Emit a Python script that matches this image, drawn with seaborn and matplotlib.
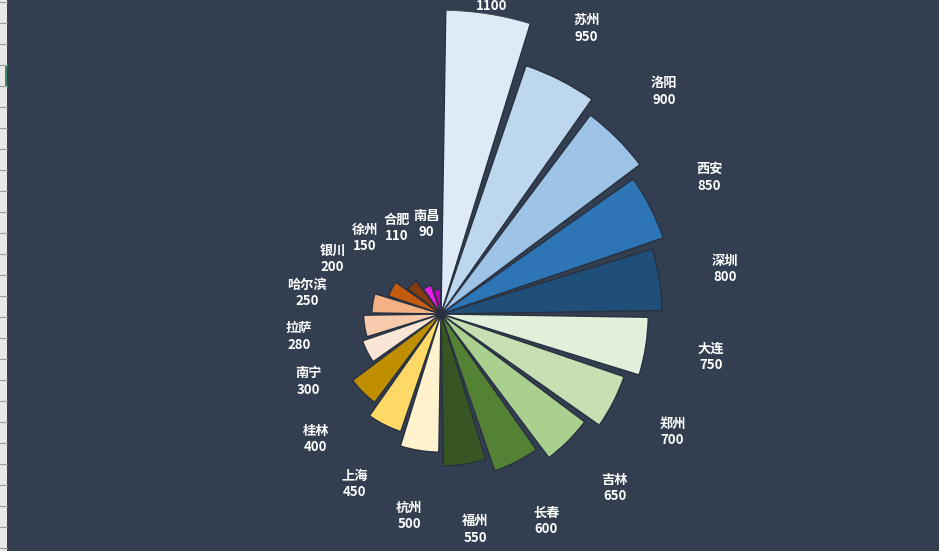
import numpy as np
import matplotlib
matplotlib.use("Agg")
import matplotlib.pyplot as plt
import matplotlib.transforms as mtransforms
import seaborn as sns
from matplotlib.patches import Rectangle
from matplotlib.lines import Line2D

cities = ["北京", "苏州", "洛阳", "西安", "深圳", "大连", "郑州", "吉林", "长春", "福州",
          "杭州", "上海", "桂林", "南宁", "拉萨", "哈尔滨", "银川", "徐州", "合肥", "南昌"]
values = [1100, 950, 900, 850, 800, 750, 700, 650, 600, 550,
          500, 450, 400, 300, 280, 250, 200, 150, 110, 90]
colors = ["#deebf7", "#bdd7ee", "#9dc3e6", "#2e75b6", "#1f4e79",
          "#e2efda", "#c6e0b4", "#a9d08e", "#548235", "#375623",
          "#fff2cc", "#ffd966", "#bf8f00", "#fbe5d6", "#f8cbad",
          "#f4b183", "#c55a11", "#843c0c", "#e61ee6", "#c000c0"]

BG = "#333e50"

sns.set_theme(style="dark")
plt.rcParams["font.family"] = ["Noto Sans CJK SC", "DejaVu Sans"]

W, H = 939, 551
fig = plt.figure(figsize=(W / 100, H / 100), dpi=100, facecolor=BG)

cx, cy, R = 441, 314, 304
ax = fig.add_axes([(cx - R) / W, (H - cy - R) / H, 2 * R / W, 2 * R / H],
                  projection="polar")
ax.set_facecolor("none")
ax.set_theta_zero_location("N")
ax.set_theta_direction(-1)

n = len(values)
step = 2 * np.pi / n
theta = np.arange(n) * step + step / 2
pal = sns.color_palette(colors)

ax.bar(theta, values, width=step * 0.9, color=pal, edgecolor="#283140",
       linewidth=1.0, align="center", zorder=2)
ax.set_ylim(0, max(values))
ax.set_axis_off()

fig.canvas.draw()
up = mtransforms.offset_copy(ax.transData, fig=fig, x=0, y=1, units="points")
down = mtransforms.offset_copy(ax.transData, fig=fig, x=0, y=-1, units="points")
for t, v, c in zip(theta, values, cities):
    r = min(v + 240, 1160)
    px, py = ax.transData.transform((t, r))
    style = dict(ha="center", color="white", fontsize=9.5, fontweight="bold",
                 clip_on=False)
    ax.text(t, r, f"{v}", va="top", transform=down, **style)
    if py + 16 < H:
        ax.text(t, r, c, va="bottom", transform=up, **style)

# left-edge spreadsheet strip
fig.add_artist(Rectangle((0, 0), 7 / W, 1, transform=fig.transFigure,
                         facecolor="#e8e8e8", edgecolor="none"))
for yy in range(2, H, 21):
    fig.add_artist(Line2D([0, 7 / W], [1 - yy / H, 1 - yy / H],
                          transform=fig.transFigure, color="#9a9a9a", lw=0.8))
fig.add_artist(Rectangle((5 / W, 1 - 86 / H), 2 / W, 21 / H, transform=fig.transFigure,
                         facecolor="#3f8a5a", edgecolor="none"))

fig.savefig("out.png", dpi=100, facecolor=BG)
